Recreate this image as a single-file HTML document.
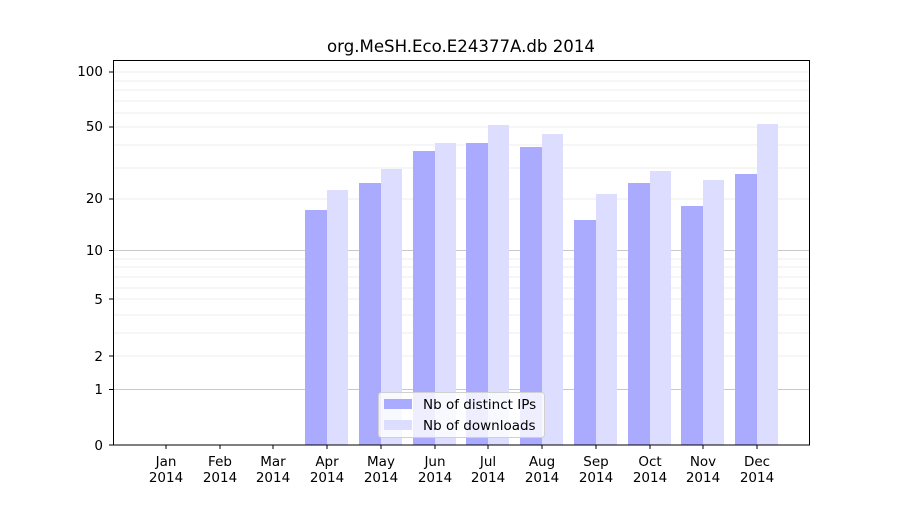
<!DOCTYPE html>
<html><head><meta charset="utf-8"><style>
body{margin:0;background:#fff;}
svg{font-family:"DejaVu Sans","Liberation Sans",sans-serif;}
</style></head><body>
<svg width="900" height="500" xmlns="http://www.w3.org/2000/svg">
<rect width="900" height="500" fill="#fff"/>
<g stroke="#eeeeee" stroke-width="1">
<line x1="113" x2="810" y1="356" y2="356"/><line x1="113" x2="810" y1="333" y2="333"/>
<line x1="113" x2="810" y1="315" y2="315"/><line x1="113" x2="810" y1="299" y2="299"/>
<line x1="113" x2="810" y1="288" y2="288"/><line x1="113" x2="810" y1="277" y2="277"/>
<line x1="113" x2="810" y1="267" y2="267"/><line x1="113" x2="810" y1="259" y2="259"/>
<line x1="113" x2="810" y1="199" y2="199"/><line x1="113" x2="810" y1="168" y2="168"/>
<line x1="113" x2="810" y1="145" y2="145"/><line x1="113" x2="810" y1="127" y2="127"/>
<line x1="113" x2="810" y1="113" y2="113"/><line x1="113" x2="810" y1="101" y2="101"/>
<line x1="113" x2="810" y1="90" y2="90"/><line x1="113" x2="810" y1="81" y2="81"/>
<line x1="113" x2="810" y1="72" y2="72"/>
</g>
<g stroke="#c8c8c8" stroke-width="1">
<line x1="113" x2="810" y1="389.5" y2="389.5"/><line x1="113" x2="810" y1="250.5" y2="250.5"/>
</g>
<g fill="#aaaaff">
<rect x="305" y="210" width="22" height="235"/>
<rect x="359" y="183" width="22" height="262"/>
<rect x="413" y="151" width="22" height="294"/>
<rect x="466" y="143" width="22" height="302"/>
<rect x="520" y="147" width="22" height="298"/>
<rect x="574" y="220" width="22" height="225"/>
<rect x="628" y="183" width="22" height="262"/>
<rect x="681" y="206" width="22" height="239"/>
<rect x="735" y="174" width="22" height="271"/>
</g>
<g fill="#ddddff">
<rect x="327" y="190" width="21" height="255"/>
<rect x="381" y="169" width="21" height="276"/>
<rect x="435" y="143" width="21" height="302"/>
<rect x="488" y="125" width="21" height="320"/>
<rect x="542" y="134" width="21" height="311"/>
<rect x="596" y="194" width="21" height="251"/>
<rect x="650" y="171" width="21" height="274"/>
<rect x="703" y="180" width="21" height="265"/>
<rect x="757" y="124" width="21" height="321"/>
</g>
<rect x="113.5" y="60.5" width="696" height="384.5" fill="none" stroke="#000" stroke-width="1"/>
<g stroke="#000"><line x1="109" x2="113" y1="445" y2="445"/><line x1="109" x2="113" y1="389.5" y2="389.5"/>
<line x1="109" x2="113" y1="356" y2="356"/><line x1="109" x2="113" y1="299" y2="299"/>
<line x1="109" x2="113" y1="250.5" y2="250.5"/><line x1="109" x2="113" y1="199" y2="199"/>
<line x1="109" x2="113" y1="127" y2="127"/><line x1="109" x2="113" y1="72" y2="72"/></g>
<g font-size="13.5" text-anchor="end" fill="#000">
<text x="103" y="450">0</text><text x="103" y="394">1</text><text x="103" y="361">2</text>
<text x="103" y="304">5</text><text x="103" y="255">10</text><text x="103" y="203">20</text>
<text x="103" y="131">50</text><text x="103" y="76">100</text></g>
<g stroke="#000">
<line x1="166" x2="166" y1="445" y2="449"/><line x1="220" x2="220" y1="445" y2="449"/>
<line x1="273" x2="273" y1="445" y2="449"/><line x1="327" x2="327" y1="445" y2="449"/>
<line x1="381" x2="381" y1="445" y2="449"/><line x1="435" x2="435" y1="445" y2="449"/>
<line x1="488" x2="488" y1="445" y2="449"/><line x1="542" x2="542" y1="445" y2="449"/>
<line x1="596" x2="596" y1="445" y2="449"/><line x1="650" x2="650" y1="445" y2="449"/>
<line x1="703" x2="703" y1="445" y2="449"/><line x1="757" x2="757" y1="445" y2="449"/></g>
<g font-size="13.5" text-anchor="middle" fill="#000">
<text x="166" y="466">Jan</text><text x="166" y="482">2014</text>
<text x="220" y="466">Feb</text><text x="220" y="482">2014</text>
<text x="273" y="466">Mar</text><text x="273" y="482">2014</text>
<text x="327" y="466">Apr</text><text x="327" y="482">2014</text>
<text x="381" y="466">May</text><text x="381" y="482">2014</text>
<text x="435" y="466">Jun</text><text x="435" y="482">2014</text>
<text x="488" y="466">Jul</text><text x="488" y="482">2014</text>
<text x="542" y="466">Aug</text><text x="542" y="482">2014</text>
<text x="596" y="466">Sep</text><text x="596" y="482">2014</text>
<text x="650" y="466">Oct</text><text x="650" y="482">2014</text>
<text x="703" y="466">Nov</text><text x="703" y="482">2014</text>
<text x="757" y="466">Dec</text><text x="757" y="482">2014</text>
<text x="461" y="52" font-size="16.6">org.MeSH.Eco.E24377A.db 2014</text>
</g>
<rect x="378.5" y="392.5" width="166" height="45" rx="3" fill="#fff" fill-opacity="0.8" stroke="#d0d0d0"/>
<rect x="384" y="399" width="28" height="10" fill="#aaaaff"/>
<rect x="384" y="420" width="28" height="10" fill="#ddddff"/>
<g font-size="13.5" fill="#000"><text x="423" y="409">Nb of distinct IPs</text><text x="423" y="430">Nb of downloads</text></g>
</svg>
</body></html>
